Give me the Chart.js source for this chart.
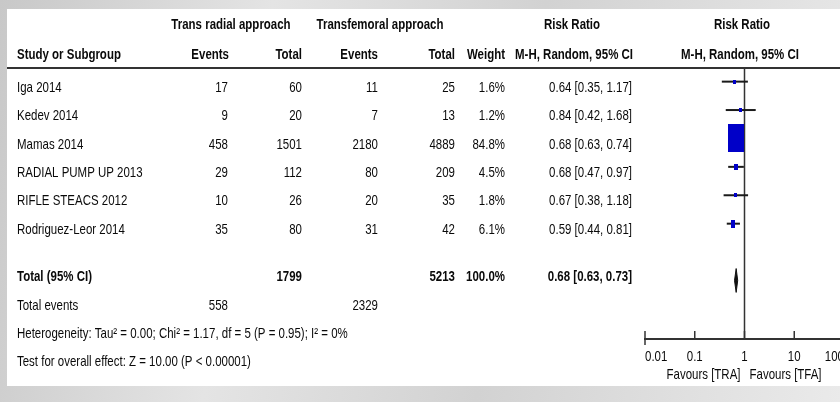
<!DOCTYPE html>
<html>
<head>
<meta charset="utf-8">
<script src="https://cdn.jsdelivr.net/npm/chart.js@4.4.1/dist/chart.umd.min.js"></script>
<style>
html, body { margin: 0; padding: 0; overflow: hidden; width: 840px; height: 402px; }
body { position: relative; background: linear-gradient(100deg, #c8c8c8 0%, #e4e4e4 30%, #d2d2d2 60%, #eaeaea 100%); }
#panel { position: absolute; left: 7px; top: 9px; width: 833px; height: 377px; background: #fff; }
#wrap { position: absolute; left: 0; top: 0; width: 850px; height: 402px; }
</style>
</head>
<body>
<div id="panel"></div>
<div id="wrap"><canvas id="forest" width="850" height="402"></canvas></div>
<script>
// data
const studies = ['Iga 2014', 'Kedev 2014', 'Mamas 2014', 'RADIAL PUMP UP 2013', 'RIFLE STEACS 2012', 'Rodriguez-Leor 2014'];
const traEvents = [17, 9, 458, 29, 10, 35];
const traTotal = [60, 20, 1501, 112, 26, 80];
const tfaEvents = [11, 7, 2180, 80, 20, 31];
const tfaTotal = [25, 13, 4889, 209, 35, 42];
const weights = [1.6, 1.2, 84.8, 4.5, 1.8, 6.1];
const riskRatio = [0.64, 0.84, 0.68, 0.68, 0.67, 0.59];
const ciLow = [0.35, 0.42, 0.63, 0.47, 0.38, 0.44];
const ciHigh = [1.17, 1.68, 0.74, 0.97, 1.18, 0.81];

const pooledRR = 0.68, pooledLow = 0.63, pooledHigh = 0.73;
const traTotalAll = 1799, tfaTotalAll = 5213, traEventsAll = 558, tfaEventsAll = 2329;
const hetText = 'Heterogeneity: Tau\u00b2 = 0.00; Chi\u00b2 = 1.17, df = 5 (P = 0.95); I\u00b2 = 0%';
const testText = 'Test for overall effect: Z = 10.00 (P < 0.00001)';

const tickValues = [0.01, 0.1, 1, 10, 100];
const tickLabels = ['0.01', '0.1', '1', '10', '100'];
const axisTitle = ['Favours [TRA]', 'Favours [TFA]'];

// no narrow font installed: Liberation Sans squeezed to Arial Narrow width
const FONT = '"Liberation Sans", Arial, sans-serif';
const FONT_SIZE = 15;
const NARROW = 0.765;
Chart.defaults.font.family = FONT;
Chart.defaults.font.size = 14;
Chart.defaults.color = '#111';

const yMin = -0.48, yMax = 9.06; // row units, study rows are 0..5
const totalRow = 7;

function fmt(v) { return v.toFixed(2); }
function rrText(r, lo, hi) { return fmt(r) + ' [' + fmt(lo) + ', ' + fmt(hi) + ']'; }

// weight boxes (the plot is stretched vertically, so boxes are taller than wide)
function makeBox(weight) {
    const w = Math.max(2.5, 16 * Math.sqrt(weight / 84.8));
    const c = document.createElement('canvas');
    c.width = Math.round(w);
    c.height = Math.round(w * 1.75);
    const g = c.getContext('2d');
    g.fillStyle = '#0000c8';
    g.fillRect(0, 0, c.width, c.height);
    return c;
}
const boxes = weights.map(makeBox);

const ciSets = studies.map((s, i) => ({
    label: s,
    data: [{x: ciLow[i], y: i}, {x: ciHigh[i], y: i}],
    showLine: true,
    borderColor: '#1a1a1a',
    borderWidth: 2,
    pointRadius: 0,
    order: 1
}));

const datasets = [
    {
        label: 'RR',
        data: riskRatio.map((v, i) => ({x: v, y: i})),
        pointStyle: boxes,
        pointRadius: 3,
        showLine: false,
        order: 0
    },
    ...ciSets,
    {
        label: 'Total',
        data: [
            {x: pooledLow, y: totalRow},
            {x: pooledRR, y: totalRow - 0.42},
            {x: pooledHigh, y: totalRow},
            {x: pooledRR, y: totalRow + 0.42},
            {x: pooledLow, y: totalRow}
        ],
        showLine: true,
        fill: 'shape',
        backgroundColor: '#111',
        borderColor: '#111',
        borderWidth: 1,
        pointRadius: 0,
        order: 1
    },
    {
        label: 'no effect',
        data: [{x: 1, y: yMin}, {x: 1, y: yMax}],
        showLine: true,
        borderColor: '#333',
        borderWidth: 1.5,
        pointRadius: 0,
        order: 2
    }
];

// table text, axis labels and upward tick marks
const tablePlugin = {
    id: 'forestTable',
    afterDraw(chart) {
        const c = chart.ctx, ys = chart.scales.y, xs = chart.scales.x, area = chart.chartArea;
        c.save();
        c.strokeStyle = '#333';
        c.lineWidth = 2;
        c.beginPath();
        c.moveTo(7, area.top);
        c.lineTo(850, area.top);
        c.stroke();

        c.lineWidth = 1.5;
        xs.ticks.forEach((t, i) => {
            const px = xs.getPixelForValue(t.value);
            c.beginPath();
            c.moveTo(px, area.bottom - 8);
            c.lineTo(px, area.bottom + (i === 0 ? 6 : 0));
            c.stroke();
        });

        c.fillStyle = '#0a0a0a';
        c.textBaseline = 'middle';
        const put = (txt, px, py, align, bold) => {
            c.save();
            c.font = (bold ? 'bold ' : '') + FONT_SIZE + 'px ' + FONT;
            c.textAlign = align;
            c.translate(px, py);
            c.scale(NARROW, 1);
            c.fillText(txt, 0, 0);
            c.restore();
        };

        const h1 = ys.getPixelForValue(-2);
        const h2 = ys.getPixelForValue(-1) + 1.5;
        put('Trans radial approach', 231, h1, 'center', true);
        put('Transfemoral approach', 380, h1, 'center', true);
        put('Risk Ratio', 572, h1, 'center', true);
        put('Risk Ratio', 742, h1, 'center', true);
        put('Study or Subgroup', 17, h2, 'left', true);
        put('Events', 229, h2, 'right', true);
        put('Total', 302, h2, 'right', true);
        put('Events', 378, h2, 'right', true);
        put('Total', 455, h2, 'right', true);
        put('Weight', 505, h2, 'right', true);
        put('M-H, Random, 95% CI', 633, h2, 'right', true);
        put('M-H, Random, 95% CI', 740, h2, 'center', true);

        studies.forEach((s, i) => {
            const py = ys.getPixelForValue(i) + 6;
            put(s, 17, py, 'left');
            put(String(traEvents[i]), 228, py, 'right');
            put(String(traTotal[i]), 302, py, 'right');
            put(String(tfaEvents[i]), 378, py, 'right');
            put(String(tfaTotal[i]), 455, py, 'right');
            put(weights[i].toFixed(1) + '%', 505, py, 'right');
            put(rrText(riskRatio[i], ciLow[i], ciHigh[i]), 632, py, 'right');
        });

        const f = k => ys.getPixelForValue(totalRow + k) - 3.5;
        put('Total (95% CI)', 17, f(0), 'left', true);
        put(String(traTotalAll), 302, f(0), 'right', true);
        put(String(tfaTotalAll), 455, f(0), 'right', true);
        put('100.0%', 505, f(0), 'right', true);
        put(rrText(pooledRR, pooledLow, pooledHigh), 632, f(0), 'right', true);
        put('Total events', 17, f(1), 'left');
        put(String(traEventsAll), 228, f(1), 'right');
        put(String(tfaEventsAll), 378, f(1), 'right');
        put(hetText, 17, f(2), 'left');
        put(testText, 17, f(3), 'left');

        // axis tick labels: first one left aligned, last one right aligned
        const last = xs.ticks.length - 1;
        xs.ticks.forEach((t, i) => {
            const px = xs.getPixelForValue(t.value);
            const align = i === 0 ? 'left' : (i === last ? 'right' : 'center');
            put(tickLabels[i], px, area.bottom + 18, align);
        });
        const mid = xs.getPixelForValue(1);
        put(axisTitle[0], mid - 4, area.bottom + 36, 'right');
        put(axisTitle[1], mid + 5, area.bottom + 36, 'left');
        c.restore();
    }
};

const ctx = document.getElementById('forest').getContext('2d');
const forestChart = new Chart(ctx, {
    type: 'scatter',
    data: { datasets: datasets },
    options: {
        responsive: false,
        animation: false,
        layout: { padding: { left: 645, right: 6, top: 68, bottom: 0 } },
        plugins: {
            legend: { display: false },
            tooltip: { enabled: false }
        },
        scales: {
            x: {
                type: 'logarithmic',
                min: 0.01,
                max: 100,
                afterBuildTicks: scale => {
                    scale.ticks = tickValues.map(v => ({ value: v }));
                },
                afterFit: scale => { scale.height = 63; },
                grid: { drawOnChartArea: false, drawTicks: false },
                border: { color: '#333', width: 2 },
                ticks: { display: false }
            },
            y: {
                display: false,
                reverse: true,
                min: yMin,
                max: yMax
            }
        }
    },
    plugins: [tablePlugin]
});
</script>
</body>
</html>
